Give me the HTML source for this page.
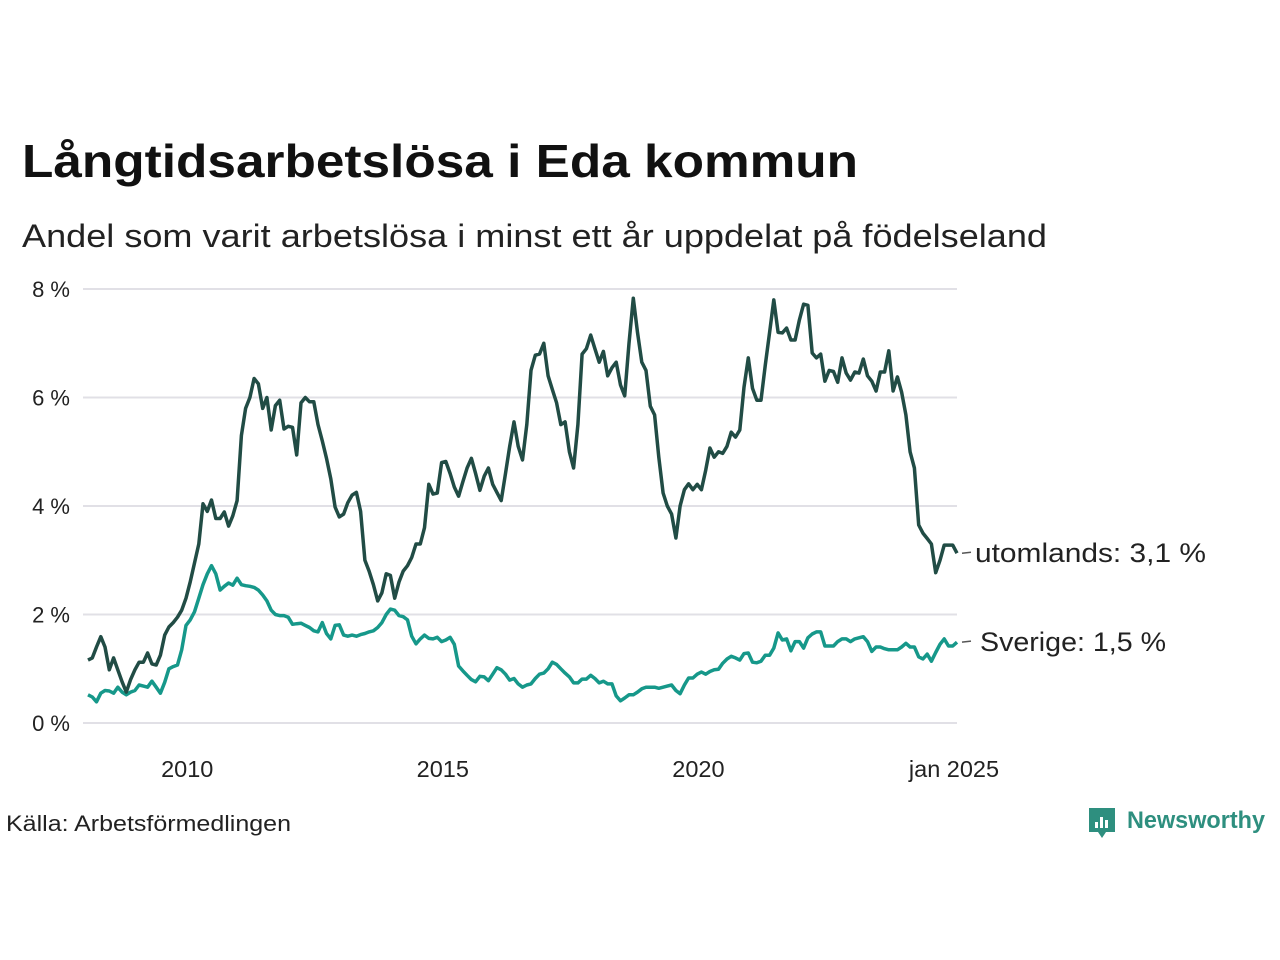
<!DOCTYPE html>
<html><head><meta charset="utf-8"><style>
html,body{margin:0;padding:0;background:#fff;}
svg{display:block;font-family:"Liberation Sans",sans-serif;}
</style></head><body>
<svg id="chart" width="1280" height="960" viewBox="0 0 1280 960">
<text x="22" y="177" font-size="46" font-weight="bold" fill="#111" textLength="836" lengthAdjust="spacingAndGlyphs">Långtidsarbetslösa i Eda kommun</text>
<text x="22" y="247" font-size="32" fill="#222" textLength="1025" lengthAdjust="spacingAndGlyphs">Andel som varit arbetslösa i minst ett år uppdelat på födelseland</text>
<g id="grid"></g>
<g id="series"></g>
<g id="labels"></g>
<text x="6" y="831" font-size="22" fill="#222" textLength="285" lengthAdjust="spacingAndGlyphs">Källa: Arbetsförmedlingen</text>
<g>
<path d="M1089 808 h26 v24 h-9 l-4 6 l-4 -6 h-9 z" fill="#2e8f7f"/>
<rect x="1095" y="822" width="3" height="6" fill="#fff"/><rect x="1100" y="817" width="3" height="11" fill="#fff"/><rect x="1105" y="820" width="3" height="8" fill="#fff"/>
<text x="1127" y="828" font-size="24" font-weight="bold" fill="#2e8f7f" textLength="138" lengthAdjust="spacingAndGlyphs">Newsworthy</text>
</g>
</svg>
<script>
const yTicks=[0,2,4,6,8];
const yTickLabels=["0 %","2 %","4 %","6 %","8 %"];
const xTickYears=[2010,2015,2020,2025];
const xTickLabels=["2010","2015","2020","jan 2025"];
const startYear=2008;
const utomlands=[
1.16,1.2,1.4,1.59,1.4,0.98,1.2,0.98,0.76,0.57,0.8,0.98,
1.12,1.12,1.29,1.09,1.07,1.25,1.62,1.77,1.85,1.95,2.08,2.3,
2.6,2.95,3.3,4.04,3.9,4.11,3.77,3.77,3.89,3.63,3.82,4.1,
5.3,5.8,6.0,6.35,6.25,5.8,6.0,5.4,5.85,5.95,5.42,5.47,
5.45,4.94,5.9,6.0,5.92,5.92,5.5,5.2,4.88,4.5,3.98,3.8,
3.85,4.06,4.2,4.25,3.9,3.0,2.8,2.55,2.25,2.4,2.75,2.72,
2.3,2.6,2.8,2.9,3.05,3.3,3.3,3.6,4.4,4.22,4.24,4.8,
4.82,4.6,4.35,4.18,4.45,4.7,4.88,4.6,4.29,4.55,4.7,4.4,
4.25,4.1,4.6,5.1,5.55,5.1,4.85,5.5,6.5,6.78,6.8,7.0,
6.4,6.15,5.9,5.5,5.55,5.0,4.7,5.5,6.8,6.9,7.15,6.9,
6.65,6.85,6.4,6.55,6.65,6.23,6.03,7.0,7.83,7.2,6.65,6.5,
5.84,5.68,4.9,4.24,4.0,3.85,3.41,4.0,4.3,4.41,4.3,4.4,
4.3,4.66,5.07,4.9,5.0,4.97,5.1,5.36,5.27,5.4,6.19,6.73,
6.17,5.95,5.95,6.6,7.2,7.8,7.2,7.19,7.28,7.06,7.06,7.43,
7.72,7.7,6.82,6.73,6.8,6.3,6.5,6.48,6.28,6.73,6.45,6.32,
6.47,6.45,6.71,6.4,6.3,6.12,6.47,6.47,6.86,6.12,6.38,6.1,
5.68,5.0,4.7,3.65,3.5,3.4,3.3,2.77,3.0,3.28,3.28,3.28,
3.13];
const sverige=[
0.52,0.48,0.39,0.55,0.6,0.59,0.55,0.66,0.57,0.52,0.57,0.6,
0.7,0.68,0.66,0.77,0.66,0.55,0.75,1.0,1.04,1.07,1.35,1.8,
1.9,2.05,2.3,2.55,2.75,2.9,2.75,2.45,2.52,2.58,2.54,2.67,
2.55,2.53,2.52,2.5,2.45,2.36,2.25,2.08,2.0,1.98,1.98,1.95,
1.82,1.83,1.84,1.8,1.76,1.7,1.68,1.85,1.65,1.55,1.8,1.81,
1.62,1.6,1.62,1.6,1.63,1.65,1.68,1.7,1.76,1.85,2.0,2.1,
2.08,1.98,1.96,1.9,1.6,1.46,1.55,1.62,1.56,1.55,1.58,1.5,
1.53,1.58,1.45,1.05,0.96,0.88,0.8,0.76,0.86,0.85,0.78,0.9,
1.02,0.98,0.9,0.79,0.82,0.72,0.66,0.7,0.72,0.82,0.9,0.92,
1.0,1.12,1.08,1.0,0.92,0.85,0.74,0.74,0.81,0.81,0.88,0.82,
0.74,0.77,0.72,0.72,0.5,0.41,0.46,0.52,0.52,0.57,0.63,0.66,
0.66,0.66,0.64,0.66,0.68,0.7,0.6,0.54,0.7,0.83,0.83,0.9,
0.94,0.9,0.95,0.98,0.99,1.1,1.18,1.23,1.2,1.16,1.28,1.29,
1.12,1.11,1.14,1.25,1.25,1.38,1.66,1.53,1.55,1.33,1.5,1.5,
1.38,1.57,1.64,1.68,1.68,1.42,1.42,1.42,1.5,1.55,1.55,1.5,
1.55,1.57,1.59,1.5,1.32,1.4,1.4,1.37,1.35,1.35,1.35,1.4,
1.47,1.4,1.4,1.22,1.18,1.27,1.14,1.3,1.45,1.55,1.42,1.42,
1.49];
const seriesNames=["utomlands","Sverige"];
const seriesLabels=["utomlands: 3,1 %","Sverige: 1,5 %"];

const NS="http://www.w3.org/2000/svg";
const X0=88, X1=957, Y0=723, Y8=289;
const nMonths=(2025-startYear)*12;
function xScale(i){return X0+(X1-X0)*i/nMonths;}
function xYear(y){return xScale((y-startYear)*12);}
function yScale(v){return Y0+(Y8-Y0)*v/8;}
function mk(tag,attrs,parent){const e=document.createElementNS(NS,tag);for(const k in attrs)e.setAttribute(k,attrs[k]);parent.appendChild(e);return e;}

const grid=document.getElementById('grid');
yTicks.forEach((t,i)=>{
  const l=mk('line',{x1:83,x2:957,y1:yScale(t),y2:yScale(t),stroke:'#e1e0e6','stroke-width':2},grid);
  
  
  const tx=mk('text',{x:70,y:yScale(t)+8,'font-size':22,fill:'#222','text-anchor':'end'},grid);
  tx.textContent=yTickLabels[i];
  
  
});
xTickYears.forEach((yr,i)=>{
  const tx=mk('text',{x:xYear(yr)-3,y:777,'font-size':23.5,fill:'#222','text-anchor':'middle'},grid);
  tx.textContent=xTickLabels[i];
  
  
});

const sg=document.getElementById('series');
function drawLine(vals,color,name){
  const d=vals.map((v,i)=>(i?'L':'M')+xScale(i).toFixed(1)+' '+yScale(v).toFixed(1)).join(' ');
  const p=mk('path',{d:d,fill:'none',stroke:color,'stroke-width':3.5,'stroke-linejoin':'round'},sg);
  
  
}
drawLine(sverige,'#16988a','sverige');
drawLine(utomlands,'#214c45','utomlands');

const lg=document.getElementById('labels');
[[utomlands,seriesLabels[0],975,231],[sverige,seriesLabels[1],980,186]].forEach(([vals,label,lx,w])=>{
  const y=yScale(vals[vals.length-1]);
  const ly=mk('line',{x1:962,x2:971,y1:y,y2:y-1,stroke:'#555','stroke-width':1.5},lg);
  
  
  const t=mk('text',{x:lx,y:y+9,'font-size':27,fill:'#222',textLength:w,lengthAdjust:'spacingAndGlyphs'},lg);
  t.textContent=label;
  
  
});
</script>
</body></html>
